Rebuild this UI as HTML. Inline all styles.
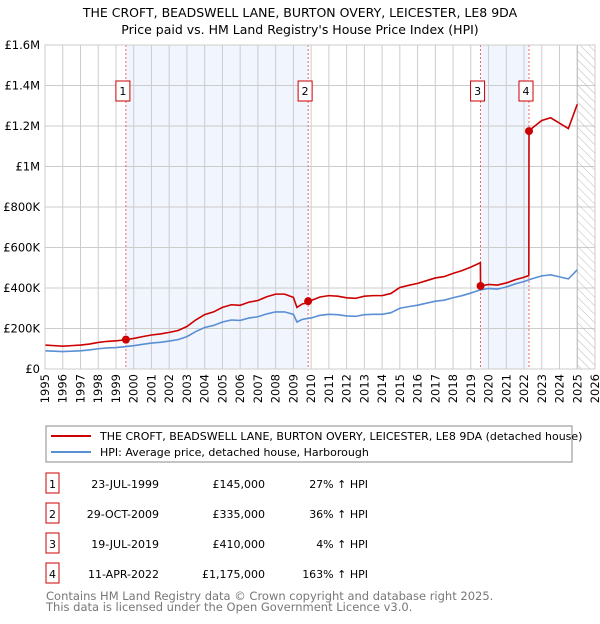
<!DOCTYPE html>
<html><head><meta charset="utf-8"><style>
body{margin:0;width:600px;height:620px;background:#fff;font-family:"DejaVu Sans","Liberation Sans",sans-serif;overflow:hidden}
svg text{font-family:"DejaVu Sans","Liberation Sans",sans-serif}
</style></head><body>
<svg id="c" width="600" height="620" xmlns="http://www.w3.org/2000/svg">
<text x="300" y="17" text-anchor="middle" font-size="12.5">THE CROFT, BEADSWELL LANE, BURTON OVERY, LEICESTER, LE8 9DA</text>
<text x="300" y="34" text-anchor="middle" font-size="12.5">Price paid vs. HM Land Registry's House Price Index (HPI)</text>
<g id="plot"></g>
<rect x="46" y="426" width="526" height="36" fill="#fff" stroke="#888"/>
<line x1="51" y1="436" x2="91" y2="436" stroke="#cc0000" stroke-width="2"/>
<text x="100" y="440" font-size="11">THE CROFT, BEADSWELL LANE, BURTON OVERY, LEICESTER, LE8 9DA (detached house)</text>
<line x1="51" y1="452" x2="91" y2="452" stroke="#5b8fd4" stroke-width="2"/>
<text x="100" y="456" font-size="11">HPI: Average price, detached house, Harborough</text>
<g id="tbl" font-size="11"></g>
<text x="46" y="600" font-size="11.5" fill="#777">Contains HM Land Registry data © Crown copyright and database right 2025.</text>
<text x="46" y="611" font-size="11.5" fill="#777">This data is licensed under the Open Government Licence v3.0.</text>
</svg>
<script>
const hpiYears=[1995,1995.5,1996,1996.5,1997,1997.5,1998,1998.5,1999,1999.5,2000,2000.5,2001,2001.5,2002,2002.5,2003,2003.5,2004,2004.5,2005,2005.5,2006,2006.5,2007,2007.5,2008,2008.5,2009,2009.2,2009.5,2010,2010.5,2011,2011.5,2012,2012.5,2013,2013.5,2014,2014.5,2015,2015.5,2016,2016.5,2017,2017.5,2018,2018.5,2019,2019.5,2020,2020.5,2021,2021.5,2022,2022.5,2023,2023.5,2024,2024.5,2025];
const hpiValues=[90,88,86,88,90,94,100,104,106,110,115,122,128,132,138,145,160,185,205,215,232,242,240,252,258,272,282,282,270,232,245,252,265,270,268,262,260,268,270,270,278,300,308,315,325,335,340,352,362,375,390,398,395,405,420,432,447,460,465,455,445,490];
const saleDates=[1999.56,2009.83,2019.55,2022.28];
const salePrices=[145,335,410,1175];
const saleLabels=["1","2","3","4"];
const saleDateText=["23-JUL-1999","29-OCT-2009","19-JUL-2019","11-APR-2022"];
const salePriceText=["£145,000","£335,000","£410,000","£1,175,000"];
const salePctText=["27% ↑ HPI","36% ↑ HPI","4% ↑ HPI","163% ↑ HPI"];
const yTicks=[0,200,400,600,800,1000,1200,1400,1600];
const yTickLabels=["£0","£200K","£400K","£600K","£800K","£1M","£1.2M","£1.4M","£1.6M"];
const xTicks=[];for(let y=1995;y<=2026;y++)xTicks.push(y);

const X0=45,X1=595,Y0=369,Y1=45;
const xs=t=>X0+(t-1995)/(2026-1995)*(X1-X0);
const ys=v=>Y0-v/1600*(Y0-Y1);
const NS="http://www.w3.org/2000/svg";
const plot=document.getElementById('plot');
function mk(tag,at,parent){const e=document.createElementNS(NS,tag);for(const k in at)e.setAttribute(k,at[k]);(parent||plot).appendChild(e);return e;}
function hpiAt(t){for(let i=0;i<hpiYears.length-1;i++){if(t<=hpiYears[i+1]){const f=(t-hpiYears[i])/(hpiYears[i+1]-hpiYears[i]);return hpiValues[i]+f*(hpiValues[i+1]-hpiValues[i]);}}return hpiValues[hpiValues.length-1];}

let r=mk('rect',{x:X0,y:Y1,width:X1-X0,height:Y0-Y1,fill:'#fff'});


// shaded ownership spans
[[0,1],[2,3]].forEach((p,i)=>{const s=mk('rect',{x:xs(saleDates[p[0]]),y:Y1,width:xs(saleDates[p[1]])-xs(saleDates[p[0]]),height:Y0-Y1,fill:'#eef3fc',opacity:0.8});

});
// grid
xTicks.forEach(t=>{const l=mk('line',{x1:xs(t),x2:xs(t),y1:Y1,y2:Y0,stroke:'#ccc','stroke-width':1});


const tx=mk('text',{x:0,y:0,'font-size':11.5,'text-anchor':'end',transform:`translate(${xs(t)+4},${Y0+5}) rotate(-90)`});tx.textContent=t;

});
yTicks.forEach((v,i)=>{const l=mk('line',{x1:X0,x2:X1,y1:ys(v),y2:ys(v),stroke:'#ccc','stroke-width':1});


const tx=mk('text',{x:X0-5,y:ys(v)+4,'font-size':11.5,'text-anchor':'end'});tx.textContent=yTickLabels[i];

});
// hatch for future
const defs=mk('defs',{});const pat=mk('pattern',{id:'h',width:6,height:6,patternUnits:'userSpaceOnUse',patternTransform:'rotate(-45)'},defs);mk('line',{x1:0,y1:0,x2:0,y2:6,stroke:'#bbb','stroke-width':1},pat);
const hz=mk('rect',{x:xs(2025),y:Y1,width:X1-xs(2025),height:Y0-Y1,fill:'url(#h)',stroke:'#bbb'});


// sale vlines
saleDates.forEach((d,i)=>{const l=mk('line',{x1:xs(d),x2:xs(d),y1:Y1,y2:Y0,stroke:'#e44','stroke-width':0.8,'stroke-dasharray':'2,2'});


const bx=xs(d)-3,g=mk('g',{});


mk('rect',{x:bx-7,y:81,width:14,height:20,fill:'#fff',stroke:'#cc0000'},g);const t=mk('text',{x:bx,y:95,'font-size':11,'text-anchor':'middle'},g);t.textContent=saleLabels[i];});
// hpi line
const hp=mk('polyline',{points:hpiYears.map((t,i)=>xs(t)+','+ys(hpiValues[i])).join(' '),fill:'none',stroke:'#5b8fd4','stroke-width':1.6});


// property line: HPI scaled by ratio at latest sale
const pts=[];
function ratioIdx(t){let k=0;for(let i=0;i<saleDates.length;i++)if(t>=saleDates[i])k=i;return k;}
const times=[...hpiYears,...saleDates,...saleDates.map(d=>d-0.01)].sort((a,b)=>a-b);
times.forEach(t=>{const k=ratioIdx(t);const v=hpiAt(t)*salePrices[k]/hpiAt(saleDates[k]);pts.push(xs(t)+','+ys(v));});
const pl=mk('polyline',{points:pts.join(' '),fill:'none',stroke:'#cc0000','stroke-width':1.6});


saleDates.forEach((d,i)=>{const c=mk('circle',{cx:xs(d),cy:ys(salePrices[i]),r:4,fill:'#cc0000'});

});
mk('rect',{x:X0,y:Y1,width:X1-X0,height:Y0-Y1,fill:'none',stroke:'#ccc'});
// table
const tbl=document.getElementById('tbl');
saleLabels.forEach((l,i)=>{const y=484+i*30;const g=mk('g',{},tbl);


mk('rect',{x:46,y:y-11,width:13,height:20,fill:'#fff',stroke:'#cc0000'},g);
const a=mk('text',{x:52.5,y:y+4,'text-anchor':'middle'},g);a.textContent=l;
const b=mk('text',{x:159,y:y+4,'text-anchor':'end'},g);b.textContent=saleDateText[i];
const c=mk('text',{x:265,y:y+4,'text-anchor':'end'},g);c.textContent=salePriceText[i];
const d=mk('text',{x:368,y:y+4,'text-anchor':'end'},g);d.textContent=salePctText[i];});
</script>
</body></html>
